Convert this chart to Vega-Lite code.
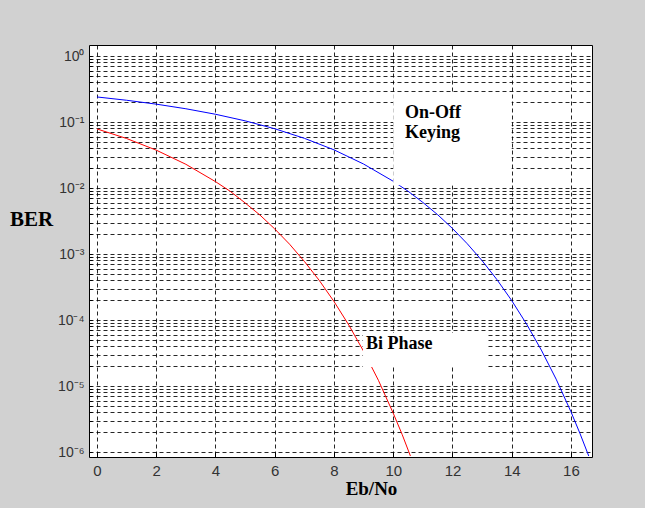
{
  "$schema": "https://vega.github.io/schema/vega-lite/v6.json",
  "width": 503,
  "height": 412,
  "autosize": "none",
  "padding": {"left": 89, "top": 45, "right": 53, "bottom": 51},
  "background": "#d1d1d1",
  "config": {
    "view": {"fill": "white", "stroke": "#000000", "strokeWidth": 1},
    "axis": {
      "domain": false,
      "ticks": true,
      "tickSize": -5,
      "tickColor": "#000000",
      "tickWidth": 1,
      "grid": true,
      "gridColor": "#000000",
      "gridDash": [4, 3],
      "gridWidth": 1,
      "gridOpacity": 0.85,
      "labelFont": "Liberation Sans",
      "labelColor": "#333333",
      "labelOverlap": false,
      "labelFlush": false,
      "titleFont": "Liberation Serif",
      "titleFontWeight": "bold",
      "titleColor": "#000000"
    }
  },
  "datasets": {
    "curves": [
      {"ebno": 0, "ber": 0.2398, "scheme": "On-Off Keying"},
      {"ebno": 1, "ber": 0.2138, "scheme": "On-Off Keying"},
      {"ebno": 2, "ber": 0.1867, "scheme": "On-Off Keying"},
      {"ebno": 3, "ber": 0.1589, "scheme": "On-Off Keying"},
      {"ebno": 4, "ber": 0.1312, "scheme": "On-Off Keying"},
      {"ebno": 5, "ber": 0.1043, "scheme": "On-Off Keying"},
      {"ebno": 6, "ber": 0.0791, "scheme": "On-Off Keying"},
      {"ebno": 7, "ber": 0.0567, "scheme": "On-Off Keying"},
      {"ebno": 8, "ber": 0.0379, "scheme": "On-Off Keying"},
      {"ebno": 9, "ber": 0.0231, "scheme": "On-Off Keying"},
      {"ebno": 10, "ber": 0.01267, "scheme": "On-Off Keying"},
      {"ebno": 10.5, "ber": 0.00895, "scheme": "On-Off Keying"},
      {"ebno": 11, "ber": 0.00605, "scheme": "On-Off Keying"},
      {"ebno": 11.5, "ber": 0.00394, "scheme": "On-Off Keying"},
      {"ebno": 12, "ber": 0.00244, "scheme": "On-Off Keying"},
      {"ebno": 12.5, "ber": 0.00143, "scheme": "On-Off Keying"},
      {"ebno": 13, "ber": 0.000793, "scheme": "On-Off Keying"},
      {"ebno": 13.5, "ber": 0.00041, "scheme": "On-Off Keying"},
      {"ebno": 14, "ber": 0.000197, "scheme": "On-Off Keying"},
      {"ebno": 14.5, "ber": 0.000087, "scheme": "On-Off Keying"},
      {"ebno": 15, "ber": 0.000035, "scheme": "On-Off Keying"},
      {"ebno": 15.5, "ber": 0.0000127, "scheme": "On-Off Keying"},
      {"ebno": 16, "ber": 0.00000407, "scheme": "On-Off Keying"},
      {"ebno": 16.3, "ber": 0.00000193, "scheme": "On-Off Keying"},
      {"ebno": 16.6, "ber": 0.00000087, "scheme": "On-Off Keying"},
      {"ebno": 0, "ber": 0.0786, "scheme": "Bi Phase"},
      {"ebno": 1, "ber": 0.0563, "scheme": "Bi Phase"},
      {"ebno": 2, "ber": 0.0375, "scheme": "Bi Phase"},
      {"ebno": 3, "ber": 0.0229, "scheme": "Bi Phase"},
      {"ebno": 4, "ber": 0.0125, "scheme": "Bi Phase"},
      {"ebno": 4.5, "ber": 0.0089, "scheme": "Bi Phase"},
      {"ebno": 5, "ber": 0.00595, "scheme": "Bi Phase"},
      {"ebno": 5.5, "ber": 0.0039, "scheme": "Bi Phase"},
      {"ebno": 6, "ber": 0.0024, "scheme": "Bi Phase"},
      {"ebno": 6.5, "ber": 0.00141, "scheme": "Bi Phase"},
      {"ebno": 7, "ber": 0.000773, "scheme": "Bi Phase"},
      {"ebno": 7.5, "ber": 0.0004, "scheme": "Bi Phase"},
      {"ebno": 8, "ber": 0.000191, "scheme": "Bi Phase"},
      {"ebno": 8.5, "ber": 0.000084, "scheme": "Bi Phase"},
      {"ebno": 9, "ber": 0.0000336, "scheme": "Bi Phase"},
      {"ebno": 9.5, "ber": 0.0000122, "scheme": "Bi Phase"},
      {"ebno": 10, "ber": 0.00000387, "scheme": "Bi Phase"},
      {"ebno": 10.3, "ber": 0.00000185, "scheme": "Bi Phase"},
      {"ebno": 10.58, "ber": 0.00000087, "scheme": "Bi Phase"}
    ],
    "boxes": [
      {"ebno": 10.0, "ebno2": 14.0, "ber": 0.275, "ber2": 0.011},
      {"ebno": 8.98, "ebno2": 13.16, "ber": 0.0000635, "ber2": 0.0000194}
    ],
    "labels": [
      {"ebno": 10.4, "ber": 0.137, "text": "On-Off"},
      {"ebno": 10.4, "ber": 0.068, "text": "Keying"},
      {"ebno": 9.08, "ber": 0.000044, "text": "Bi Phase"}
    ]
  },
  "layer": [
    {
      "data": {"name": "curves"},
      "mark": {"type": "line", "strokeWidth": 1, "clip": true},
      "encoding": {
        "x": {
          "field": "ebno",
          "type": "quantitative",
          "scale": {"domain": [-0.27, 16.71], "nice": false, "zero": false},
          "axis": {
            "values": [0, 2, 4, 6, 8, 10, 12, 14, 16],
            "title": "Eb/No",
            "titleFontSize": 19,
            "titleX": 282,
            "titleY": 37,
            "titleBaseline": "alphabetic",
            "titleAlign": "center",
            "labelFontSize": 15,
            "labelPadding": 11
          }
        },
        "y": {
          "field": "ber",
          "type": "quantitative",
          "scale": {"type": "log", "domain": [0.00000084, 1.47], "nice": false},
          "axis": {
            "values": [0.000001, 0.000002, 0.000003, 0.000004, 0.000005, 0.000006, 0.000007, 0.000008, 0.000009,
                       0.00001, 0.00002, 0.00003, 0.00004, 0.00005, 0.00006, 0.00007, 0.00008, 0.00009,
                       0.0001, 0.0002, 0.0003, 0.0004, 0.0005, 0.0006, 0.0007, 0.0008, 0.0009,
                       0.001, 0.002, 0.003, 0.004, 0.005, 0.006, 0.007, 0.008, 0.009,
                       0.01, 0.02, 0.03, 0.04, 0.05, 0.06, 0.07, 0.08, 0.09,
                       0.1, 0.2, 0.3, 0.4, 0.5, 0.6, 0.7, 0.8, 0.9, 1],
            "labelExpr": "abs(log(datum.value)/LN10 - round(log(datum.value)/LN10)) < 0.001 ? ('10' + (datum.value >= 0.99 ? '⁰' : '⁻' + ['⁰','¹','²','³','⁴','⁵','⁶'][round(-log(datum.value)/LN10)])) : ''",
            "labelFontSize": 14,
            "labelPadding": 8,
            "tickSize": -3,
            "title": "BER",
            "titleFontSize": 21,
            "titleAngle": 0,
            "titleX": -58,
            "titleY": 180,
            "titleAlign": "center",
            "titleBaseline": "alphabetic"
          }
        },
        "color": {
          "field": "scheme",
          "type": "nominal",
          "scale": {"domain": ["On-Off Keying", "Bi Phase"], "range": ["#0000ff", "#ff0000"]},
          "legend": null
        }
      }
    },
    {
      "data": {"name": "boxes"},
      "mark": {"type": "rect", "fill": "white", "stroke": null},
      "encoding": {
        "x": {"field": "ebno", "type": "quantitative"},
        "x2": {"field": "ebno2"},
        "y": {"field": "ber", "type": "quantitative"},
        "y2": {"field": "ber2"}
      }
    },
    {
      "data": {"name": "labels"},
      "mark": {"type": "text", "align": "left", "baseline": "middle", "font": "Liberation Serif", "fontWeight": "bold", "fontSize": 18, "color": "#000000"},
      "encoding": {
        "x": {"field": "ebno", "type": "quantitative"},
        "y": {"field": "ber", "type": "quantitative"},
        "text": {"field": "text"}
      }
    }
  ]
}
